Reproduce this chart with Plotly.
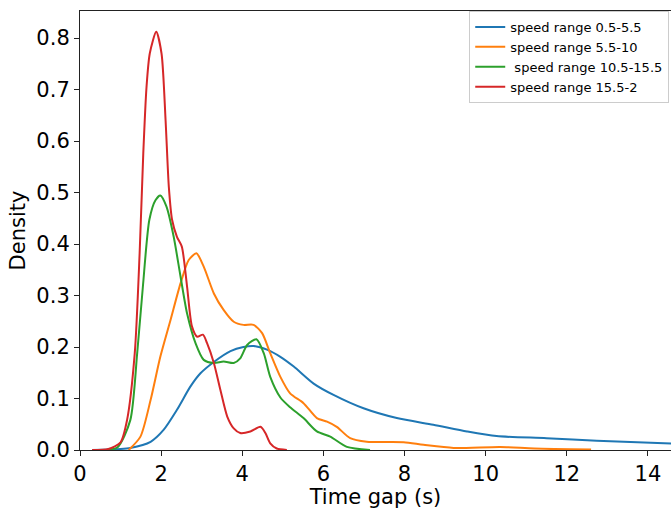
import plotly.graph_objects as go

# speed range 0.5-5.5
blue_x = [0.3, 1.0, 1.24, 1.74, 2.06, 2.39, 2.72, 2.97, 3.30, 3.71, 4.03, 4.28, 4.61, 4.94, 5.27, 5.76, 6.25, 6.99, 7.81, 8.71, 9.54, 10.27, 11.5, 12.74, 14.7]
blue_y = [0.0, 0.002, 0.004, 0.016, 0.039, 0.078, 0.123, 0.149, 0.171, 0.192, 0.200, 0.202, 0.195, 0.181, 0.162, 0.129, 0.107, 0.081, 0.062, 0.049, 0.036, 0.027, 0.023, 0.018, 0.012]

# speed range 5.5-10
orange_x = [1.2, 1.49, 1.74, 1.98, 2.23, 2.48, 2.68, 2.87, 3.05, 3.30, 3.54, 3.79, 4.03, 4.28, 4.49, 4.69, 4.94, 5.18, 5.51, 5.84, 6.09, 6.33, 6.66, 7.07, 7.98, 8.47, 9.21, 10.36, 11.2, 12.6]
orange_y = [0.0, 0.026, 0.097, 0.181, 0.252, 0.324, 0.369, 0.382, 0.356, 0.304, 0.272, 0.249, 0.243, 0.243, 0.227, 0.188, 0.142, 0.110, 0.091, 0.062, 0.055, 0.045, 0.023, 0.016, 0.015, 0.010, 0.004, 0.006, 0.003, 0.001]

# speed range 10.5-15.5
green_x = [0.5, 0.92, 1.24, 1.41, 1.55, 1.71, 1.86, 1.98, 2.13, 2.31, 2.48, 2.64, 2.85, 3.05, 3.30, 3.54, 3.79, 3.95, 4.12, 4.35, 4.53, 4.69, 4.94, 5.18, 5.51, 5.84, 6.17, 6.58, 7.15]
green_y = [0.0, 0.005, 0.058, 0.188, 0.317, 0.447, 0.485, 0.494, 0.473, 0.414, 0.336, 0.265, 0.207, 0.175, 0.169, 0.172, 0.169, 0.178, 0.204, 0.215, 0.188, 0.142, 0.102, 0.083, 0.062, 0.036, 0.026, 0.006, 0.0]

# speed range 15.5-2
red_x = [0.3, 0.7, 1.0, 1.16, 1.35, 1.47, 1.56, 1.64, 1.72, 1.88, 2.01, 2.11, 2.19, 2.27, 2.39, 2.51, 2.64, 2.76, 2.89, 3.03, 3.13, 3.30, 3.46, 3.63, 3.79, 3.95, 4.2, 4.45, 4.57, 4.69, 4.85, 5.1]
red_y = [0.0, 0.002, 0.015, 0.058, 0.188, 0.382, 0.576, 0.705, 0.77, 0.812, 0.77, 0.64, 0.511, 0.447, 0.414, 0.395, 0.317, 0.24, 0.22, 0.224, 0.208, 0.169, 0.117, 0.065, 0.042, 0.033, 0.036, 0.045, 0.033, 0.013, 0.003, 0.0]

names = ["speed range 0.5-5.5", "speed range 5.5-10", " speed range 10.5-15.5", "speed range 15.5-2"]
colors = ["#1f77b4", "#ff7f0e", "#2ca02c", "#d62728"]
xs = [blue_x, orange_x, green_x, red_x]
ys = [blue_y, orange_y, green_y, red_y]

x_ticks = [0, 2, 4, 6, 8, 10, 12, 14]
y_ticks = [0.0, 0.1, 0.2, 0.3, 0.4, 0.5, 0.6, 0.7, 0.8]

fig = go.Figure()
for x, y, n, c in zip(xs, ys, names, colors):
    fig.add_trace(go.Scatter(x=x, y=y, name=n, mode="lines",
                             line=dict(color=c, width=2, shape="spline", smoothing=0.7)))

font = "DejaVu Sans"
fig.update_layout(
    width=671, height=509,
    margin=dict(l=80, r=0, t=11, b=59),
    plot_bgcolor="white", paper_bgcolor="white",
    font=dict(family=font, color="black", size=21),
    legend=dict(x=0.997, xanchor="right", y=1.0, yanchor="top",
                bgcolor="rgba(255,255,255,0.8)", bordercolor="#cccccc", borderwidth=1,
                font=dict(size=13, family=font), itemwidth=30, tracegroupgap=0),
    showlegend=True,
)
fig.update_xaxes(range=[0, 14.57], tickvals=x_ticks, ticktext=[str(v) for v in x_ticks],
                 showgrid=False, zeroline=False, showline=True, linecolor="#222222", linewidth=1.1,
                 mirror=True, ticks="outside", ticklen=5, tickcolor="#222222", tickwidth=1.1,
                 tickfont=dict(size=21), title=dict(text="Time gap (s)", standoff=4, font=dict(size=21)))
fig.update_yaxes(range=[0, 0.8525], tickvals=y_ticks, ticktext=["%.1f" % v for v in y_ticks],
                 showgrid=False, zeroline=False, showline=True, linecolor="#222222", linewidth=1.1,
                 ticks="outside", ticklen=5, tickcolor="#222222", tickwidth=1.1,
                 tickfont=dict(size=21), title=dict(text="Density", standoff=4, font=dict(size=21)))

fig.write_html("out.html", config={"displayModeBar": False},
               post_script="document.body.style.margin='0';")
